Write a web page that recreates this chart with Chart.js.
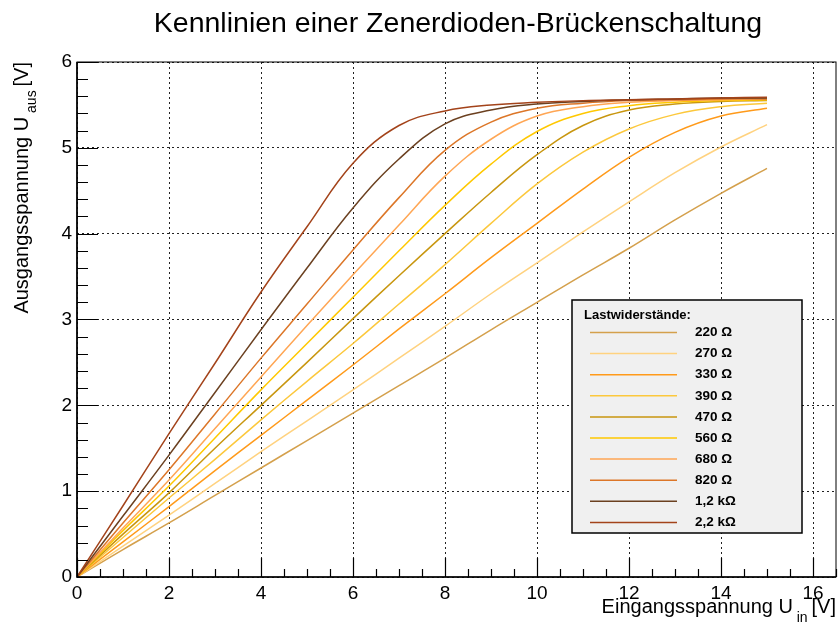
<!DOCTYPE html>
<html>
<head>
<meta charset="utf-8">
<script src="https://cdn.jsdelivr.net/npm/chart.js@4.4.1/dist/chart.umd.min.js"></script>
<style>
  html, body { margin: 0; padding: 0; background: #fff; }
  #wrap { width: 838px; height: 626px; }
</style>
</head>
<body>
<div id="wrap"><canvas id="chart" width="838" height="626"></canvas></div>
<script>
// input voltage in V
const uIn = [0, 1, 2, 3, 4, 5, 6, 7, 8, 9, 10, 11, 12, 13, 14, 15];

// output voltage in V, one array per load resistor
const uOut220 = [0, 0.32, 0.63, 0.95, 1.27, 1.59, 1.91, 2.23, 2.55, 2.88, 3.20, 3.52, 3.83, 4.16, 4.47, 4.76];
const uOut270 = [0, 0.36, 0.72, 1.09, 1.46, 1.82, 2.18, 2.55, 2.92, 3.30, 3.66, 4.02, 4.37, 4.71, 5.01, 5.27];
const uOut330 = [0, 0.41, 0.82, 1.24, 1.65, 2.06, 2.47, 2.89, 3.30, 3.72, 4.12, 4.52, 4.89, 5.18, 5.37, 5.46];
const uOut390 = [0, 0.46, 0.92, 1.37, 1.83, 2.28, 2.72, 3.18, 3.64, 4.12, 4.58, 4.95, 5.22, 5.39, 5.48, 5.52];
const uOut470 = [0, 0.50, 0.98, 1.50, 2.00, 2.50, 3.01, 3.51, 4.00, 4.48, 4.92, 5.26, 5.44, 5.51, 5.54, 5.55];
const uOut560 = [0, 0.54, 1.06, 1.62, 2.18, 2.72, 3.26, 3.80, 4.33, 4.81, 5.19, 5.40, 5.49, 5.53, 5.55, 5.56];
const uOut680 = [0, 0.57, 1.13, 1.73, 2.33, 2.93, 3.52, 4.10, 4.67, 5.10, 5.37, 5.48, 5.53, 5.55, 5.56, 5.57];
const uOut820 = [0, 0.63, 1.25, 1.90, 2.55, 3.18, 3.81, 4.42, 4.97, 5.30, 5.46, 5.52, 5.55, 5.56, 5.57, 5.57];
const uOut1k2 = [0, 0.71, 1.42, 2.15, 2.88, 3.60, 4.30, 4.87, 5.28, 5.44, 5.51, 5.54, 5.56, 5.57, 5.58, 5.58];
const uOut2k2 = [0, 0.83, 1.67, 2.49, 3.32, 4.08, 4.82, 5.26, 5.43, 5.50, 5.53, 5.55, 5.56, 5.57, 5.58, 5.59];

const resistorLabels = ["220 Ω", "270 Ω", "330 Ω", "390 Ω", "470 Ω", "560 Ω", "680 Ω", "820 Ω", "1,2 kΩ", "2,2 kΩ"];
const allSeries = [uOut220, uOut270, uOut330, uOut390, uOut470, uOut560, uOut680, uOut820, uOut1k2, uOut2k2];
const lineColors = ["#d4a04c", "#ffd27f", "#ff9a1a", "#fcc83c", "#c8960f", "#ffc800", "#ffa654", "#dc7628", "#6b4020", "#a3431a"];

const xTicks = [0, 2, 4, 6, 8, 10, 12, 14, 16];
const yTicks = [0, 1, 2, 3, 4, 5, 6];

const FONT = "'Liberation Sans', Arial, Helvetica, sans-serif";

// text with a subscript part, right aligned at (x, y)
function drawSubText(ctx, parts, x, y) {
    let total = 0;
    parts.forEach(p => {
        ctx.font = p.size + "px " + FONT;
        total += ctx.measureText(p.t).width;
    });
    let cx = x - total;
    parts.forEach(p => {
        ctx.font = p.size + "px " + FONT;
        ctx.fillText(p.t, cx, y + p.dy);
        cx += ctx.measureText(p.t).width;
    });
}

const rootStyle = {
    id: "rootStyle",
    afterDraw(chart) {
        const ctx = chart.ctx;
        const area = chart.chartArea;
        const xs = chart.scales.x;
        const ys = chart.scales.y;
        ctx.save();
        ctx.strokeStyle = "#000";
        ctx.fillStyle = "#000";

        // frame
        ctx.lineWidth = 1;
        ctx.strokeRect(area.left, area.top, area.right - area.left, area.bottom - area.top);
        ctx.lineWidth = 1.6;
        ctx.beginPath();
        ctx.moveTo(area.left, area.top);
        ctx.lineTo(area.left, area.bottom);
        ctx.lineTo(area.right, area.bottom);
        ctx.stroke();

        // inner ticks on x axis
        ctx.lineWidth = 1.2;
        ctx.beginPath();
        for (let v = 0; v <= xs.max + 1e-9; v += 0.5) {
            const px = Math.round(xs.getPixelForValue(v)) + 0.5;
            const len = Math.abs(v % 2) < 1e-9 ? 19 : 8;
            ctx.moveTo(px, area.bottom);
            ctx.lineTo(px, area.bottom - len);
        }
        // inner ticks on y axis
        for (let v = 0; v <= ys.max + 1e-9; v += 0.2) {
            const py = Math.round(ys.getPixelForValue(v)) + 0.5;
            const r = Math.abs(v - Math.round(v));
            const len = r < 1e-6 ? 21 : 11;
            ctx.moveTo(area.left, py);
            ctx.lineTo(area.left + len, py);
        }
        ctx.stroke();

        // title
        ctx.textAlign = "center";
        ctx.textBaseline = "alphabetic";
        ctx.font = "28.5px " + FONT;
        ctx.fillText("Kennlinien einer Zenerdioden-Brückenschaltung", 458, 32);

        // axis titles
        ctx.textAlign = "left";
        drawSubText(ctx, [
            { t: "Eingangsspannung U", size: 20, dy: 0 },
            { t: " in ", size: 14, dy: 9 },
            { t: "[V]", size: 20, dy: 0 }
        ], area.right, 613);

        ctx.save();
        ctx.translate(28, area.top);
        ctx.rotate(-Math.PI / 2);
        drawSubText(ctx, [
            { t: "Ausgangsspannung U", size: 20, dy: 0 },
            { t: " aus ", size: 14, dy: 8 },
            { t: "[V]", size: 20, dy: 0 }
        ], 0, 0);
        ctx.restore();

        // legend box
        const lx = 572, ly = 300, lw = 230, lh = 233;
        ctx.fillStyle = "#f0f0f0";
        ctx.fillRect(lx, ly, lw, lh);
        ctx.lineWidth = 1.5;
        ctx.strokeStyle = "#000";
        ctx.strokeRect(lx, ly, lw, lh);

        ctx.fillStyle = "#000";
        ctx.textAlign = "left";
        ctx.textBaseline = "middle";
        ctx.font = "bold 13px " + FONT;
        ctx.fillText("Lastwiderstände:", lx + 12, ly + 15);

        chart.data.datasets.forEach((ds, i) => {
            const ry = ly + 32.5 + i * 21.1;
            ctx.strokeStyle = ds.borderColor;
            ctx.lineWidth = 1.5;
            ctx.beginPath();
            ctx.moveTo(lx + 18, ry);
            ctx.lineTo(lx + 105, ry);
            ctx.stroke();
            ctx.fillStyle = "#000";
            ctx.font = "bold 13.5px " + FONT;
            ctx.fillText(ds.label, lx + 123, ry);
        });

        ctx.restore();
    }
};

const datasets = allSeries.map((series, i) => ({
    label: resistorLabels[i],
    data: uIn.map((u, k) => ({ x: u, y: series[k] })),
    borderColor: lineColors[i],
    backgroundColor: lineColors[i],
    borderWidth: 1.5,
    pointRadius: 0,
    showLine: true,
    fill: false,
    tension: 0.4,
    order: allSeries.length - i
}));

new Chart(document.getElementById("chart"), {
    type: "scatter",
    data: { datasets },
    options: {
        responsive: false,
        animation: false,
        devicePixelRatio: 1,
        layout: { padding: { top: 62, right: 2, left: 0, bottom: 0 } },
        plugins: {
            legend: { display: false },
            title: { display: false },
            tooltip: { enabled: false }
        },
        scales: {
            x: {
                type: "linear",
                min: 0,
                max: 16.5,
                afterBuildTicks: s => { s.ticks = xTicks.map(v => ({ value: v })); },
                afterFit: s => { s.height = 49; },
                grid: { color: "#222", lineWidth: 1, drawTicks: false },
                border: { display: false, dash: [2, 3] },
                ticks: { color: "#000", font: { family: FONT, size: 19 }, padding: 5, maxRotation: 0 }
            },
            y: {
                type: "linear",
                min: 0,
                max: 6,
                afterBuildTicks: s => { s.ticks = yTicks.map(v => ({ value: v })); },
                afterFit: s => { s.width = 77; },
                grid: { color: "#222", lineWidth: 1, drawTicks: false },
                border: { display: false, dash: [2, 3] },
                ticks: { color: "#000", font: { family: FONT, size: 19 }, padding: 5 }
            }
        }
    },
    plugins: [rootStyle]
});
</script>
</body>
</html>
